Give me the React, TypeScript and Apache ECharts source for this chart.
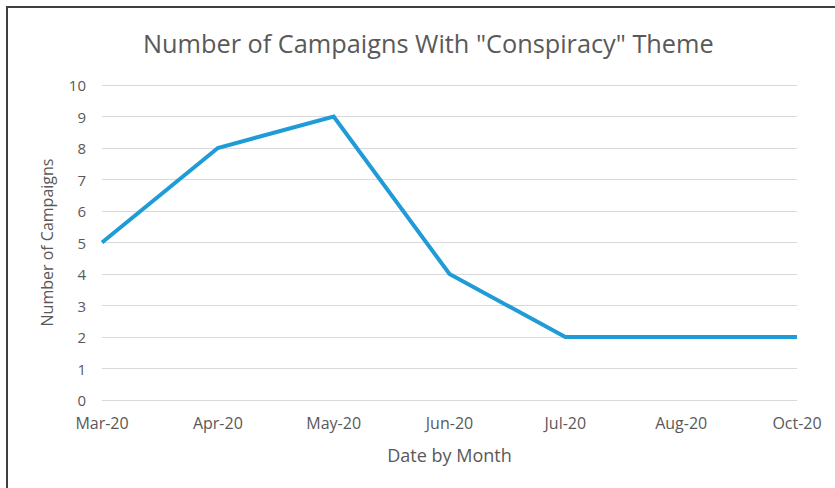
import React, { useEffect, useRef } from "react";
import * as echarts from "echarts";

const categories = ["Mar-20", "Apr-20", "May-20", "Jun-20", "Jul-20", "Aug-20", "Oct-20"];
const campaigns = [5, 8, 9, 4, 2, 2, 2];
const titleText = 'Number of Campaigns With "Conspiracy" Theme';
const xAxisName = "Date by Month";
const yAxisName = "Number of Campaigns";

const FONT = "'Open Sans', 'Noto Sans', sans-serif";
const TEXT = "#595959";

export default function App() {
  const ref = useRef<HTMLDivElement>(null);
  useEffect(() => {
    if (!ref.current) return;
    const chart = echarts.init(ref.current, null, { renderer: "svg" });
    chart.setOption({
      animation: false,
      backgroundColor: "#ffffff",
      textStyle: { fontFamily: FONT },
      title: {
        text: titleText,
        left: 138,
        top: 25,
        textStyle: { fontFamily: FONT, fontSize: 25.3, fontWeight: "normal", color: TEXT },
      },
      graphic: [
        {
          type: "rect",
          shape: { x: 7, y: 7, width: 900, height: 600 },
          style: { fill: "none", stroke: "#404040", lineWidth: 2 },
          silent: true,
        },
      ],
      grid: { left: 102, right: 38, top: 85, bottom: 88, containLabel: false },
      xAxis: {
        type: "category",
        data: categories,
        boundaryGap: false,
        axisLine: { show: false },
        axisTick: { show: false },
        axisLabel: { color: TEXT, fontSize: 16, fontFamily: FONT, margin: 15 },
        name: xAxisName,
        nameLocation: "middle",
        nameGap: 46,
        nameTextStyle: { color: TEXT, fontSize: 18, fontFamily: FONT },
      },
      yAxis: {
        type: "value",
        min: 0,
        max: 10,
        interval: 1,
        axisLine: { show: false },
        axisTick: { show: false },
        splitLine: { lineStyle: { color: "#d9d9d9", width: 1 } },
        axisLabel: { color: TEXT, fontSize: 15, fontFamily: FONT, margin: 16 },
        name: yAxisName,
        nameLocation: "middle",
        nameGap: 47,
        nameRotate: 90,
        nameTextStyle: { color: TEXT, fontSize: 16, fontFamily: FONT },
      },
      series: [
        {
          type: "line",
          data: campaigns,
          showSymbol: false,
          symbol: "none",
          lineStyle: { color: "#1f9bd7", width: 4, join: "miter" },
          itemStyle: { color: "#1f9bd7" },
        },
      ],
    });
    return () => chart.dispose();
  }, []);
  return (
    <div style={{ position: "fixed", left: 0, top: 0, width: 835, height: 488, overflow: "hidden" }}>
      <div ref={ref} style={{ width: 835, height: 488 }} />
    </div>
  );
}
